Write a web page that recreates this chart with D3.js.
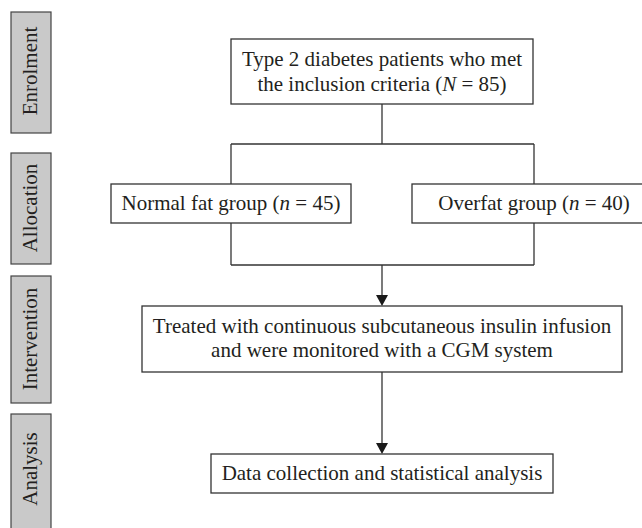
<!DOCTYPE html>
<html>
<head>
<meta charset="utf-8">
<script src="https://cdn.jsdelivr.net/npm/d3@7"></script>
<style>
  body { margin: 0; background: #fff; }
  svg { display: block; }
</style>
</head>
<body>
<svg id="chart" width="642" height="528"></svg>
<script>
// stage labels down the left side
const stages = ['Enrolment', 'Allocation', 'Intervention', 'Analysis'];

// box texts, *x* marks italic
const enrolText = ['Type 2 diabetes patients who met', 'the inclusion criteria (*N* = 85)'];
const groupText = ['Normal fat group (*n* = 45)', 'Overfat group (*n* = 40)'];
const interventionText = ['Treated with continuous subcutaneous insulin infusion', 'and were monitored with a CGM system'];
const analysisText = ['Data collection and statistical analysis'];

// layout
const stageY = [[12, 133], [153, 264], [276, 403], [414, 532]];
const labelMid = [71, 208, 339, 469];
const line = '#333';
const textColor = '#231f20';
const font = '"Liberation Serif", "DejaVu Serif", serif';

const svg = d3.select('#chart');

// side stage boxes
const side = svg.append('g');
side.selectAll('rect')
  .data(stages)
  .enter()
  .append('rect')
  .attr('x', 11)
  .attr('y', (d, i) => stageY[i][0])
  .attr('width', 40)
  .attr('height', (d, i) => stageY[i][1] - stageY[i][0])
  .attr('fill', '#c9c9c9')
  .attr('stroke', '#444')
  .attr('stroke-width', 1.2);

side.selectAll('text')
  .data(stages)
  .enter()
  .append('text')
  .attr('transform', (d, i) => `translate(37,${labelMid[i]}) rotate(-90)`)
  .attr('text-anchor', 'middle')
  .attr('font-family', font)
  .attr('font-size', '21px')
  .attr('fill', textColor)
  .text(d => d);

// helper: write a line with italic pieces
function writeLine(g, str, x, y) {
  const t = g.append('text')
    .attr('x', x)
    .attr('y', y)
    .attr('text-anchor', 'middle')
    .attr('font-family', font)
    .attr('font-size', '21px')
    .attr('fill', textColor);
  str.split('*').forEach((part, k) => {
    if (!part) return;
    t.append('tspan')
      .attr('font-style', k % 2 ? 'italic' : 'normal')
      .text(part);
  });
}

function box(x0, x1, y0, y1, lines, baselines) {
  const g = svg.append('g');
  g.append('rect')
    .attr('x', x0).attr('y', y0)
    .attr('width', x1 - x0).attr('height', y1 - y0)
    .attr('fill', '#fff')
    .attr('stroke', line)
    .attr('stroke-width', 1.3);
  lines.forEach((s, i) => writeLine(g, s, (x0 + x1) / 2, baselines[i]));
}

// connectors
const links = [
  [[382, 104], [382, 144]],
  [[231, 144], [534, 144]],
  [[231, 144], [231, 184]],
  [[534, 144], [534, 184]],
  [[231, 223], [231, 265]],
  [[534, 223], [534, 265]],
  [[231, 265], [534, 265]],
  [[382, 265], [382, 296]],
  [[382, 372], [382, 444]]
];
svg.append('g')
  .selectAll('path')
  .data(links)
  .enter()
  .append('path')
  .attr('d', d => d3.line()(d))
  .attr('stroke', line)
  .attr('stroke-width', 1.3)
  .attr('fill', 'none');

// arrow heads
const tips = [[382, 306], [382, 454]];
svg.append('g')
  .selectAll('path')
  .data(tips)
  .enter()
  .append('path')
  .attr('d', d => `M${d[0] - 6},${d[1] - 11}L${d[0] + 6},${d[1] - 11}L${d[0]},${d[1]}Z`)
  .attr('fill', '#1a1a1a');

box(231, 533, 39, 104, enrolText, [66, 91]);
box(111, 351, 184, 223, [groupText[0]], [210]);
box(412, 656, 184, 223, [groupText[1]], [210]);
box(142, 622, 306, 372, interventionText, [333, 357]);
box(211, 553, 454, 493, analysisText, [480]);
</script>
</body>
</html>
